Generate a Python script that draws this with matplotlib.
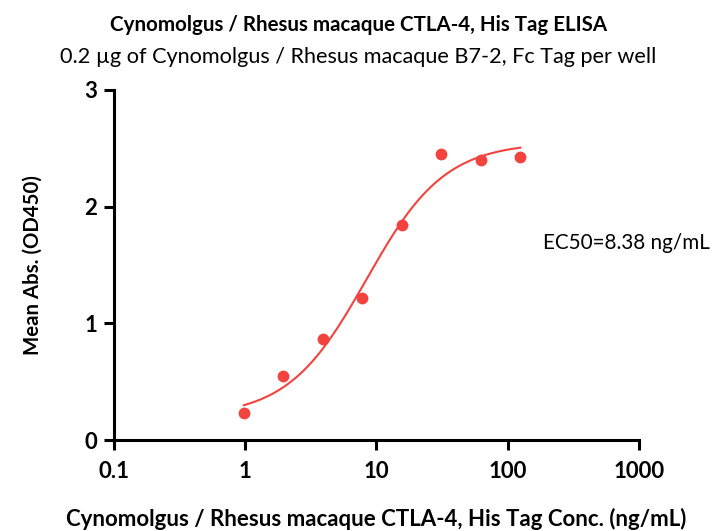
import numpy as np
import matplotlib
matplotlib.use("Agg")
import matplotlib.pyplot as plt

# measured points (ng/mL, OD450)
conc = [0.977, 1.953, 3.906, 7.8125, 15.625, 31.25, 62.5, 125]
od450 = [0.23, 0.55, 0.87, 1.22, 1.84, 2.45, 2.40, 2.42]

# 4PL fit parameters
bottom = 0.20
top = 2.55
ec50 = 8.38
hill = 1.45

xticks = [0.1, 1, 10, 100, 1000]
xticklabels = ["0.1", "1", "10", "100", "1000"]
yticks = [0, 1, 2, 3]

plt.rcParams["font.family"] = ["Lato", "DejaVu Sans"]
red = "#f2433f"

fig = plt.figure(figsize=(7.17, 5.31), dpi=100)
ax = fig.add_axes([0.159, 0.171, 0.732, 0.66])

xf = np.logspace(np.log10(conc[0]), np.log10(conc[-1]), 200)
yf = bottom + (top - bottom) / (1 + (ec50 / xf) ** hill)
ax.plot(xf, yf, color=red, lw=1.5, zorder=2)
ax.plot(conc, od450, "o", color=red, ms=8.5, mec="none", zorder=3)

ax.set_xscale("log")
ax.set_xlim(0.1, 1000)
ax.set_ylim(0, 3)
ax.set_xticks(xticks)
ax.set_xticklabels(xticklabels)
ax.xaxis.set_minor_locator(matplotlib.ticker.NullLocator())
ax.set_yticks(yticks)

for s in ["top", "right"]:
    ax.spines[s].set_visible(False)
for s in ["left", "bottom"]:
    ax.spines[s].set_linewidth(2.2)
ax.tick_params(width=2.2, length=7, labelsize=16, pad=5)
ax.tick_params(axis="x", pad=8)
for lab in ax.get_xticklabels() + ax.get_yticklabels():
    lab.set_fontweight("bold")
ax.spines["left"].set_clip_on(False)
ax.spines["bottom"].set_clip_on(False)

ax.set_ylabel("Mean Abs. (OD450)", fontsize=14.7, fontweight="bold", labelpad=30)
ax.set_xlabel("Cynomolgus / Rhesus macaque CTLA-4, His Tag Conc. (ng/mL)",
              fontsize=16, fontweight="bold", labelpad=19)

fig.text(0.5, 0.953, "Cynomolgus / Rhesus macaque CTLA-4, His Tag ELISA",
         ha="center", va="center", fontsize=14.8, fontweight="bold")
fig.text(0.5, 0.893, "0.2 \u00b5g of Cynomolgus / Rhesus macaque B7-2, Fc Tag per well",
         ha="center", va="center", fontsize=15.6)
fig.text(0.758, 0.542, "EC50=8.38 ng/mL", ha="left", va="center", fontsize=14.9)

fig.savefig("out.png", dpi=100)
